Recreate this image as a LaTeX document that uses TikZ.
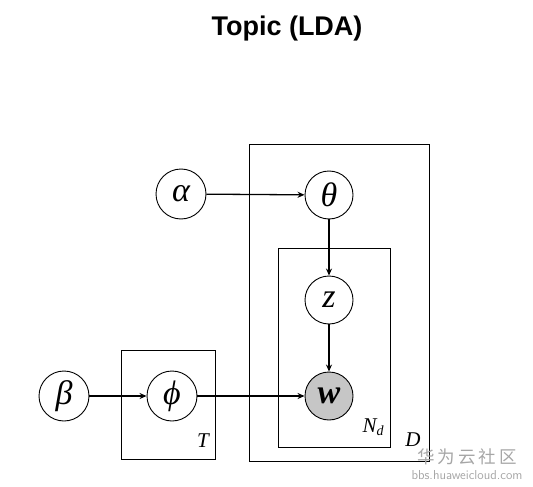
\documentclass[tikz,border=0pt]{standalone}
\usepackage{fontspec}
\setmainfont{Liberation Serif}
\newfontfamily\titlefont{Liberation Sans}
\newfontfamily\cjk{Noto Sans CJK SC}
\usetikzlibrary{arrows.meta}
\begin{document}
\begin{tikzpicture}[x=1pt,y=-1pt,
  var/.style={circle,draw,line width=0.9pt,minimum size=48pt,inner sep=0pt,font=\fontsize{34}{38}\selectfont\itshape},
  plate/.style={draw,line width=0.9pt},
  edge/.style={line width=1.3pt,-{Stealth[length=7pt,width=6pt]}},
  platelabel/.style={font=\fontsize{21}{24}\selectfont\itshape}]
\useasboundingbox (0,0) rectangle (533,487);
\node[font=\titlefont\bfseries\fontsize{27}{32}\selectfont] (title) at (287,29) {Topic (LDA)};
% plates
\draw[plate] (249,144) rectangle (429,461);
\draw[plate] (278,248) rectangle (390,447);
\draw[plate] (121,350) rectangle (215,459);
% nodes
\node[var,minimum size=50pt] (alpha) at (181,194) {α};
\node[var] (theta) at (329,195) {θ};
\node[var] (z) at (329,300) {z};
\node[var,fill=gray!45] (w) at (329,396) {\bfseries w};
\node[var,minimum size=50pt] (beta) at (64,396) {β};
\node[var,minimum size=50pt] (phi) at (172,396) {ϕ};
% labels
\node[platelabel] (T) at (203,441) {T};
\node[platelabel] (Nd) at (373,427) {N\raisebox{-0.3ex}{\fontsize{14}{16}\selectfont d}};
\node[platelabel] (D) at (413,440) {D};
% edges
\draw[edge] (alpha) -- (theta);
\draw[edge] (theta) -- (z);
\draw[edge] (z) -- (w);
\draw[edge] (beta) -- (phi);
\draw[edge] (phi) -- (w);
% watermark
\node[font=\cjk\fontsize{17.5}{20}\selectfont,text=gray!70] (wm1) at (467,457) {华\,为\,云\,社\,区};
\node[font=\fontsize{13}{15}\selectfont\sffamily,text=gray!70] (wm2) at (467,475) {bbs.huaweicloud.com};
\end{tikzpicture}
\end{document}
